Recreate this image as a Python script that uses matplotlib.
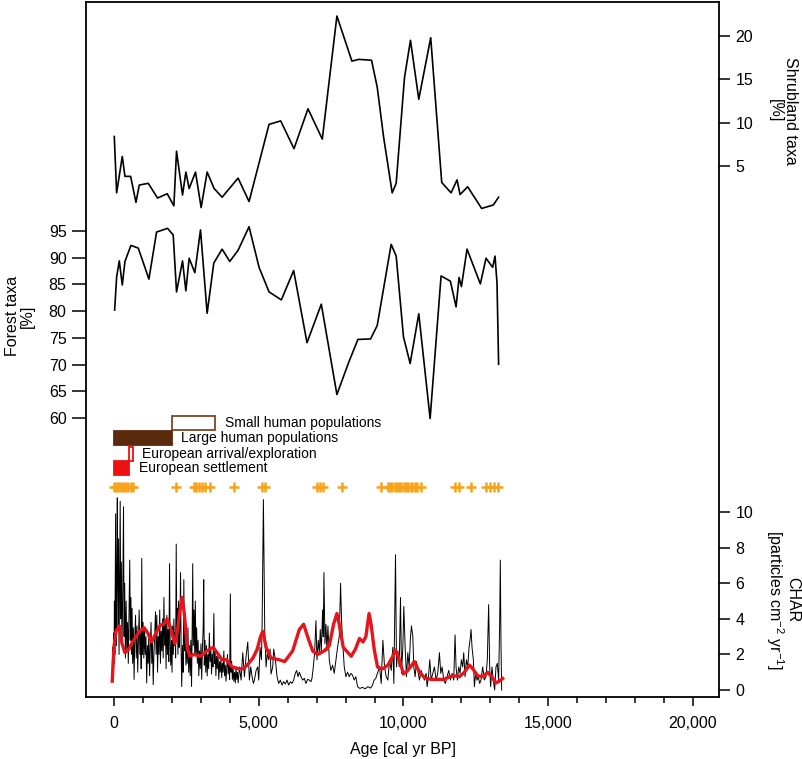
import matplotlib
matplotlib.use("Agg")
import matplotlib.pyplot as plt
from matplotlib.ticker import MultipleLocator, FuncFormatter

plt.rcParams['font.family'] = ['Liberation Sans', 'DejaVu Sans']
plt.rcParams['mathtext.default'] = 'regular'

# Pollen: shrubland taxa [%]
shrub_age = [11, 92, 287, 379, 575, 759, 874, 1184, 1506, 1839, 2069, 2161, 2368, 2483, 2597,
             2816, 3011, 3218, 3459, 3735, 4287, 4666, 5356, 5758, 6218, 6701, 7195, 7700,
             8218, 8459, 8896, 9092, 9310, 9609, 9747, 10034, 10241, 10528, 10940, 11320,
             11643, 11850, 11953, 12216, 12699, 13102, 13285]
shrub_pct = [8.4, 1.9, 6.1, 3.8, 3.8, 0.8, 2.8, 3.0, 1.3, 1.8, 0.4, 6.7, 1.65, 4.3, 2.4,
             4.3, 0.2, 4.3, 2.4, 1.4, 3.6, 0.9, 9.8, 10.2, 7.0, 11.6, 8.1, 22.3,
             17.1, 17.3, 17.2, 14.1, 8.4, 1.9, 3.0, 15.2, 19.5, 12.7, 19.8, 3.1,
             1.9, 3.4, 1.7, 2.6, 0.1, 0.5, 1.4]

# Pollen: forest taxa [%]
forest_age = [23, 92, 184, 287, 379, 586, 839, 1207, 1471, 1850, 2046, 2161, 2368, 2483,
              2597, 2793, 2989, 3218, 3448, 3735, 4000, 4287, 4666, 5011, 5356, 5782, 6206,
              6667, 7161, 7700, 8114, 8425, 8862, 9092, 9574, 9747, 9999, 10229, 10528,
              10919, 11298, 11620, 11816, 11919, 12000, 12195, 12654, 12850, 13079, 13161,
              13230, 13285]
forest_pct = [80.2, 86.4, 89.4, 84.9, 89.3, 92.3, 91.8, 86.0, 94.8, 95.5, 94.25, 83.6, 89.4,
              83.8, 89.9, 87.2, 95.2, 79.6, 89.0, 91.6, 89.3, 91.4, 95.8, 88.2, 83.6, 82.1,
              87.6, 74.1, 81.3, 64.4, 70.5, 74.7, 74.8, 77.3, 92.5, 90.3, 75.2, 70.2, 79.5,
              59.9, 86.6, 85.6, 80.8, 86.3, 84.6, 91.6, 85.1, 89.9, 88.2, 90.3, 85.2, 70.05]

# Charcoal accumulation rate (CHAR), particles cm-2 yr-1
char_age = [-60, -45, -30, -15, 0, 15, 30, 57, 75, 95, 115, 135, 155, 175, 195, 215, 235, 255,
            275, 300, 330, 350, 370, 395, 420, 445, 470, 495, 520, 545, 565, 585, 605, 625,
            645, 670, 695, 720, 745, 770, 795, 820, 845, 870, 895, 920, 940, 960, 980, 1005,
            1030, 1055, 1080, 1105, 1130, 1155, 1180, 1205, 1230, 1255, 1280, 1305, 1330,
            1355, 1380, 1405, 1435, 1455, 1480, 1505, 1530, 1555, 1580, 1605, 1630, 1655,
            1680, 1700, 1725, 1750, 1775, 1800, 1825, 1850, 1870, 1895, 1920, 1940, 1960,
            1985, 2005, 2025, 2050, 2070, 2090, 2110, 2130, 2150, 2170, 2190, 2210, 2230,
            2250, 2275, 2300, 2320, 2340, 2365, 2390, 2413, 2435, 2460, 2485, 2510, 2530,
            2555, 2580, 2605, 2630, 2655, 2680, 2700, 2720, 2740, 2765, 2790, 2810, 2830,
            2855, 2880, 2905, 2930, 2955, 2980, 3005, 3030, 3055, 3080, 3100, 3120, 3145,
            3170, 3195, 3220, 3245, 3270, 3295, 3320, 3345, 3370, 3395, 3420, 3450, 3470,
            3495, 3520, 3545, 3570, 3595, 3620, 3645, 3670, 3695, 3720, 3745, 3770, 3795,
            3820, 3845, 3870, 3895, 3920, 3945, 3970, 3995, 4020, 4040, 4065, 4090, 4115,
            4140, 4165, 4190, 4215, 4240, 4265, 4290, 4315,
            4334, 4391, 4448, 4506, 4563, 4621, 4678, 4724, 4770, 4816, 4851, 4908, 4966,
            5000, 5046, 5092, 5115, 5161, 5207, 5253, 5299, 5345, 5391, 5425, 5483, 5517,
            5575, 5632, 5689, 5747, 5804, 5862, 5919, 5977, 6034, 6092, 6149, 6206, 6264,
            6310, 6356, 6402, 6459, 6517, 6574, 6632, 6689, 6747, 6804, 6839, 6885, 6931,
            6976, 7011, 7057, 7091, 7126, 7160, 7206, 7229, 7252, 7287, 7321, 7356, 7390,
            7436, 7493, 7551, 7608, 7666, 7723, 7781, 7827, 7861, 7896, 7953, 8011, 8068,
            8126, 8183, 8240, 8298, 8355, 8413, 8493, 8585, 8677, 8769, 8861, 8930, 8987,
            9044, 9102,
            9173, 9230, 9288, 9345, 9403, 9460, 9517, 9575, 9632, 9667, 9724, 9759, 9805,
            9851, 9897, 9931, 9977, 10011, 10057, 10103, 10149, 10195, 10241, 10276, 10322,
            10356, 10402, 10448, 10494, 10552, 10609, 10666, 10724, 10781, 10816, 10862,
            10908, 10954, 11011, 11068, 11126, 11183, 11241, 11287, 11333, 11390, 11448,
            11505, 11563, 11620, 11678, 11735, 11781, 11815, 11861, 11907, 11953, 11999,
            12045, 12080, 12126, 12172, 12218, 12264, 12298, 12333, 12367, 12413, 12448,
            12494, 12540, 12585, 12631, 12677, 12735, 12792, 12850, 12895, 12941, 12976,
            13010, 13056, 13102, 13148, 13194, 13240, 13286, 13321, 13344, 13367, 13390]
char_val = [1.0, 2.4, 0.8, 3.2, 1.5, 5.0, 2.0, 9.9, 2.5, 6.0, 10.8, 3.5, 8.5, 2.0, 6.5, 10.6, 4.0, 7.2,
            2.5, 5.0, 10.3, 3.0, 6.0, 1.8, 5.0, 2.2, 3.8, 1.5, 4.5, 7.3, 2.8, 5.2, 2.0, 4.6,
            1.5, 3.5, 0.6, 3.0, 4.2, 1.8, 3.6, 1.0, 2.8, 4.5, 2.0, 3.2, 1.2, 7.4, 2.0, 3.8,
            1.8, 3.5, 2.0, 3.0, 0.4, 2.5, 1.5, 3.2, 0.8, 2.2, 3.8, 1.5, 2.8,
            0.3, 2.0, 3.0, 4.4, 2.0, 4.2, 1.0, 3.0, 2.0, 4.5, 1.5, 3.3, 2.2,
            4.0, 1.8, 5.2, 2.5, 3.8, 1.2, 4.2, 2.0, 3.4, 1.6, 7.1, 2.5, 1.4,
            2.8, 1.0, 3.6, 2.0, 4.0, 2.5, 3.2, 1.8, 8.2, 3.0, 4.6, 2.0, 5.0,
            2.4, 3.4, 6.6, 2.2, 0.2, 2.5, 1.0, 6.2, 2.2, 3.5, 1.4, 3.0, 1.5,
            3.5, 1.0, 2.5, 0.8, 2.8, 0.2, 3.2, 7.1, 2.5, 4.5, 2.0, 5.0, 2.0,
            3.5, 1.5, 2.8, 0.8, 2.2, 1.2, 2.6, 0.6, 2.4, 3.4, 6.2, 1.4, 2.8,
            1.0, 2.5, 0.8, 2.0, 1.2, 3.2, 1.6, 2.4, 0.9, 2.0, 1.3, 4.3, 1.5,
            2.2, 0.8, 1.9, 1.2, 2.0, 0.6, 1.6, 1.0, 1.8, 0.7, 1.5, 1.0, 2.2,
            0.8, 1.4, 0.5, 1.2, 2.0, 0.9, 1.5, 0.6, 5.4, 1.0, 1.6, 0.6, 1.2,
            0.5, 1.0, 0.4, 1.3, 0.6, 1.0, 0.4, 0.9,
            1.3, 0.56, 2.1, 0.75, 1.9, 2.7, 0.56, 1.3, 0.75, 0.37, 0.56, 1.1, 1.3,
            0.56, 2.4, 1.7, 3.4, 10.7, 3.4, 1.3, 2.1, 1.7, 2.3, 0.9, 1.3, 2.3,
            1.7, 0.75, 0.37, 0.56, 0.28, 0.47, 0.34, 0.56, 0.28, 0.47, 0.37, 0.56, 0.94,
            1.1, 0.75, 1.0, 0.75, 0.56, 0.66, 0.37, 0.6, 0.56, 0.47, 0.66, 1.3, 2.1,
            3.9, 1.7, 2.8, 2.1, 3.4, 2.1, 4.5, 3.0, 6.6, 2.6, 3.7, 2.2, 3.6,
            1.7, 1.1, 1.4, 0.94, 1.7, 2.4, 3.0, 6.0, 3.9, 2.8, 1.3, 0.75, 1.0,
            0.75, 0.94, 0.84, 0.56, 0.75, 0.19, 0.09, 0.15, 0.07, 0.19, 0.11, 0.28, 0.56,
            0.66, 0.94,
            1.3, 0.37, 2.8, 1.3, 0.75, 0.56, 1.7, 1.1, 2.4, 0.37, 7.6, 1.3, 2.2,
            1.3, 5.2, 0.94, 2.4, 4.7, 2.4, 0.75, 2.1, 1.3, 3.0, 3.6, 3.0,
            1.3, 0.75, 1.6, 1.1, 0.56, 1.1, 0.75, 0.56, 0.94, 0.19, 0.75,
            1.7, 0.56, 0.94, 1.3, 0.56, 0.94, 2.1, 0.94, 1.3, 0.56, 0.37,
            0.75, 1.1, 0.56, 0.94, 0.56, 3.1, 1.3, 0.56, 1.3, 0.94, 1.7,
            1.3, 2.1, 0.75, 1.7, 1.3, 2.4, 2.8, 3.4, 2.4, 1.7, 0.19,
            0.94, 0.56, 0.75, 0.37, 0.56, 1.3, 0.56, 0.75, 1.7, 4.8, 1.3,
            0.19, 1.3, 0.56, 0.0, 1.3, 1.5, 0.56, 3.7, 7.3, 2.6, 0.0]

# Smoothed CHAR (background)
smooth_age = [-60, 0, 70, 184, 280, 379, 517, 640, 760, 880, 1040, 1170, 1299, 1450, 1598,
              1720, 1838, 1950, 2103, 2200, 2260, 2350, 2430, 2528, 2620, 2758, 2987, 3217,
              3424, 3562, 3734, 3885, 4079, 4300, 4460, 4600, 4800, 4950, 5060, 5140, 5253,
              5425, 5712, 5895, 6172, 6402, 6550, 6689, 6862, 7034, 7264, 7436, 7585, 7700,
              7781, 7918, 8193, 8340, 8480, 8600, 8700, 8810, 8880, 8987, 9102, 9226, 9288,
              9460, 9632, 9720, 9862, 10000, 10149, 10375, 10552, 10724, 10954, 11183,
              11413, 11586, 11758, 11930, 12103, 12275, 12390, 12562, 12735, 12907, 13045,
              13194, 13309, 13424]
smooth_val = [0.5, 2.4, 3.3, 3.6, 2.6, 2.1, 2.3, 2.7, 3.0, 3.3, 3.5, 3.2, 2.7, 3.2, 3.65,
              3.7, 4.0, 3.5, 2.6, 3.4, 4.3, 5.2, 4.3, 2.4, 1.9, 2.0, 1.9, 2.2,
              2.4, 2.1, 1.7, 1.7, 1.3, 1.2, 1.2, 1.4, 1.8, 2.3, 3.0, 3.3, 2.4,
              1.8, 1.7, 1.6, 2.2, 3.4, 3.7, 3.0, 2.2, 2.0, 2.2, 2.5, 3.7, 4.3,
              3.7, 2.4, 1.9, 2.3, 2.9, 2.7, 3.0, 4.3, 3.7, 2.3, 1.3, 1.2, 1.2,
              1.4, 1.9, 2.25, 1.7, 0.9, 1.1, 1.6, 1.0, 0.7, 0.6, 0.6,
              0.6, 0.75, 0.8, 0.75, 1.0, 1.4, 1.2, 0.8, 0.75, 1.0, 0.75,
              0.4, 0.5, 0.65]

# Radiocarbon / age-model dates
date_age = [0, 70, 140, 210, 280, 350, 420, 500, 580, 650, 2140, 2760, 2850, 2940, 3030,
            3140, 3300, 4160, 5130, 5230, 7000, 7110, 7230, 7860, 9240, 9450, 9530, 9610,
            9690, 9770, 9850, 9930, 10010, 10090, 10170, 10250, 10310, 10380, 10480, 10620,
            11790, 11930, 12330, 12850, 12980, 13120, 13280]

# Human history bars (start, end)
event_labels = ["Small human populations", "Large human populations",
                "European arrival/exploration", "European settlement"]
event_start = [2000, 0, 510, 0]
event_end = [3500, 2000, 650, 520]

fig = plt.figure(figsize=(8.02, 7.59), dpi=100)
W, H = 802.0, 759.0
pos = [86 / W, 1 - 697 / H, (719 - 86) / W, (697 - 2) / H]

ax = fig.add_axes(pos)
ax.set_xlim(-966, 20897)
ax.set_ylim(0, 1)
ax.set_yticks([])
ax.xaxis.set_major_locator(MultipleLocator(5000))
ax.xaxis.set_minor_locator(MultipleLocator(1000))
ax.xaxis.set_major_formatter(FuncFormatter(lambda v, p: f"{int(v):,}"))
ax.tick_params(axis='x', which='major', length=6.5, width=1.1, labelsize=11.5, pad=7)
ax.tick_params(axis='x', which='minor', length=4.5, width=1.1)
for s in ax.spines.values():
    s.set_linewidth(1.3)
ax.set_xlabel("Age [cal yr BP]", fontsize=11.5, labelpad=8)


def overlay(ylim):
    a = fig.add_axes(pos, sharex=ax)
    a.patch.set_visible(False)
    for s in a.spines.values():
        s.set_visible(False)
    a.xaxis.set_visible(False)
    a.set_ylim(*ylim)
    return a


# forest (left axis)
axf = overlay((7.78, 137.86))
axf.plot(forest_age, forest_pct, color='black', lw=1.2)
axf.set_yticks(range(60, 100, 5))
axf.tick_params(axis='y', length=10, width=1.1, labelsize=11.5, pad=4)
fig.text(20 / W, 1 - 316 / H, "Forest taxa\n[%]", rotation=90, ha='center', va='center',
         multialignment='center', fontsize=11.5, linespacing=1.0)

# shrubland (right axis, top)
axs = overlay((-56.27, 23.92))
axs.plot(shrub_age, shrub_pct, color='black', lw=1.2)
axs.yaxis.tick_right()
axs.set_yticks([5, 10, 15, 20])
axs.tick_params(axis='y', length=8, width=1.1, labelsize=11.5, pad=4)
fig.text(783 / W, 1 - 111 / H, "Shrubland taxa\n[%]", rotation=-90, ha='center', va='center',
         multialignment='center', fontsize=11.5, linespacing=1.0)

# CHAR (right axis, bottom)
axc = overlay((-0.39, 38.65))
axc.plot(char_age, char_val, color='black', lw=0.7)
axc.plot(smooth_age, smooth_val, color='#e8141b', lw=2.4, solid_joinstyle='round')
axc.yaxis.tick_right()
axc.set_yticks(range(0, 12, 2))
axc.tick_params(axis='y', length=8, width=1.1, labelsize=11.5, pad=4)
fig.text(782 / W, 1 - 600 / H, "CHAR\n[particles cm$^{-2}$ yr$^{-1}$]", rotation=-90,
         ha='center', va='center', multialignment='center', fontsize=11.5, linespacing=1.0)

# human history bars
bar_y = [0.394, 0.3727, 0.3497, 0.3295]
bar_h = 0.0195
face = ['white', '#5a2a0c', 'white', '#ee1111']
edge = ['#7a4a28', '#5a2a0c', '#ee1111', '#ee1111']
for i in range(4):
    ax.barh(bar_y[i], event_end[i] - event_start[i], left=event_start[i], height=bar_h,
            color=face[i], edgecolor=edge[i], linewidth=1.3)
    ax.text(event_end[i] + 330, bar_y[i], event_labels[i], va='center', ha='left', fontsize=10)

ax.plot(date_age, [0.302] * len(date_age), '+', color='#f7a21b', ms=6.5, mew=1.8)

fig.savefig("out.png", dpi=100)
